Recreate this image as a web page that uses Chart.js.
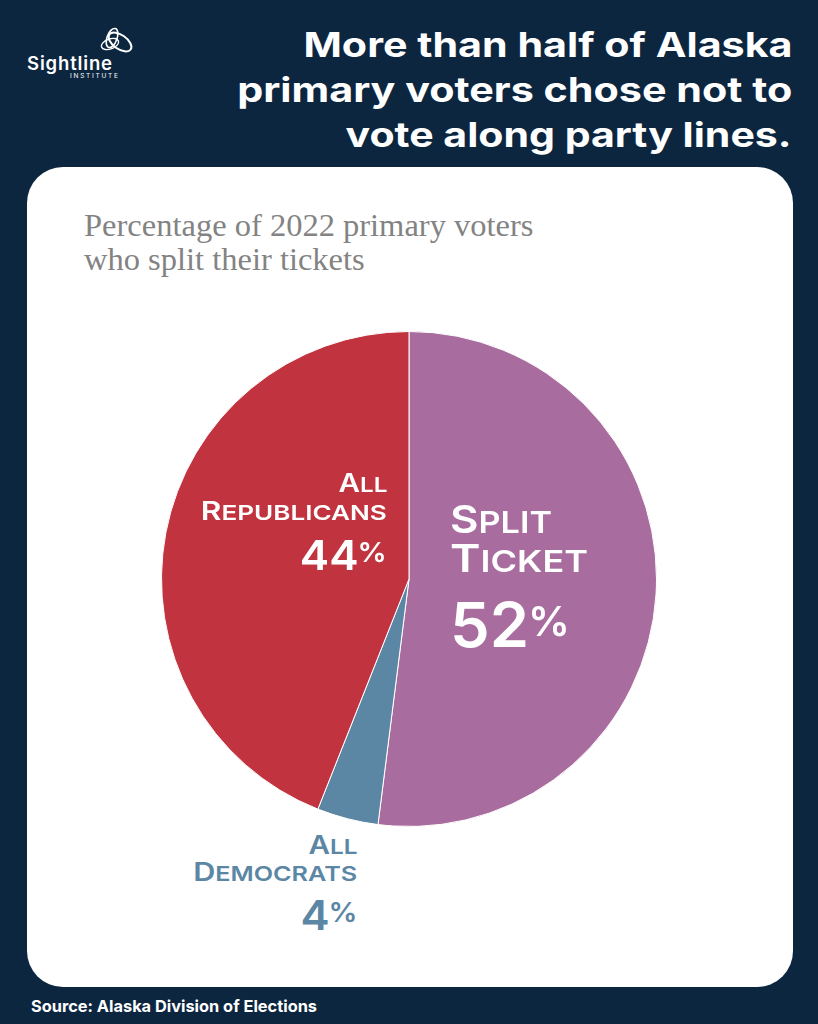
<!DOCTYPE html>
<html>
<head>
<meta charset="utf-8">
<script src="https://cdn.jsdelivr.net/npm/chart.js@4"></script>
<style>
    body { margin: 0; width: 818px; height: 1024px; background: #0c263f; position: relative; overflow: hidden; font-family: "Inter", sans-serif; }
    .abs { position: absolute; white-space: nowrap; line-height: 1; }
    .title { right: 26px; color: #fff; font-weight: 700; font-size: 34px; }
    #card { left: 27px; top: 167px; width: 766px; height: 820px; background: #fff; border-radius: 36px; }
    #subtitle { left: 84px; top: 208px; color: #838383; font-family: "Liberation Serif", serif; font-size: 32.5px; line-height: 34px; }
    #pieBox { left: 161px; top: 331px; width: 496px; height: 496px; }
    .lbl { font-weight: 600; }
    .pct { font-weight: 600; }
    .pct span { margin-left: -1px; }
    #source { left: 31px; top: 998px; color: #fff; font-weight: 700; font-size: 16.5px; }
    #logo { left: 24px; top: 22px; }
</style>
</head>
<body>
<div id="logo" class="abs">
    <svg width="120" height="60" viewBox="0 0 120 60">
        <ellipse cx="88" cy="16" rx="5" ry="10" fill="none" stroke="#fff" stroke-width="1.6" transform="rotate(20 88 16)"/>
        <ellipse cx="96" cy="20" rx="13" ry="7" fill="none" stroke="#fff" stroke-width="2" transform="rotate(35 96 20)"/>
        <ellipse cx="86" cy="22" rx="9" ry="5" fill="none" stroke="#fff" stroke-width="1.4" transform="rotate(-20 86 22)"/>
        <text x="3" y="48" fill="#fff" font-family="Inter" font-weight="600" font-size="18.5" textLength="85">Sightline</text>
        <text x="46" y="56" fill="#fff" font-family="Inter" font-size="6.5" textLength="48">INSTITUTE</text>
    </svg>
</div>

<div class="abs title fit" data-w="489" style="top:28px;">More than half of Alaska</div>
<div class="abs title fit" data-w="555" style="top:73px;">primary voters chose not to</div>
<div class="abs title fit" data-w="446" style="top:118px;">vote along party lines.</div>

<div id="card" class="abs"></div>
<div id="subtitle" class="abs">Percentage of 2022 primary voters<br>who split their tickets</div>
<div id="pieBox" class="abs"><canvas id="pie"></canvas></div>

<!-- Republicans -->
<div class="abs lbl fit" data-w="49" style="right:431px; top:471px; color:#fff; font-size:25px;">A<span style="font-size:20.6px">LL</span></div>
<div class="abs lbl fit" data-w="186" style="right:431px; top:499px; color:#fff; font-size:25px;">R<span style="font-size:20.6px">EPUBLICANS</span></div>
<div class="abs pct fit" data-w="87" style="right:431px; top:535px; color:#fff; font-size:41px;">44<span style="font-size:27px; vertical-align:8px;">%</span></div>

<!-- Split ticket -->
<div class="abs lbl fit" data-w="102" style="left:450px; top:500px; color:#fff; font-size:38.5px;">S<span style="font-size:30px">PLIT</span></div>
<div class="abs lbl fit" data-w="138" style="left:450px; top:539px; color:#fff; font-size:38.5px;">T<span style="font-size:30px">ICKET</span></div>
<div class="abs pct fit" data-w="120" style="left:450px; top:594px; color:#fff; font-size:62px;">52<span style="font-size:41px; vertical-align:11px;">%</span></div>

<!-- Democrats -->
<div class="abs lbl fit" data-w="49" style="right:461px; top:833px; color:#5b86a4; font-size:25px;">A<span style="font-size:20.6px">LL</span></div>
<div class="abs lbl fit" data-w="164" style="right:461px; top:860px; color:#5b86a4; font-size:25px;">D<span style="font-size:20.6px">EMOCRATS</span></div>
<div class="abs pct fit" data-w="57" style="right:461px; top:895px; color:#5b86a4; font-size:41px;">4<span style="font-size:27px; vertical-align:8px;">%</span></div>

<div id="source" class="abs fit" data-w="286">Source: Alaska Division of Elections</div>

<script>
// Data
const categories = ["Split Ticket", "All Democrats", "All Republicans"];
const shares = [52, 4, 44];
const sliceColors = ["#a86c9f", "#5b86a4", "#c1343f"];

new Chart(document.getElementById("pie"), {
    type: "pie",
    data: {
        labels: categories,
        datasets: [{
            data: shares,
            backgroundColor: sliceColors,
            borderColor: "#ffffff",
            borderWidth: 1
        }]
    },
    options: {
        responsive: true,
        maintainAspectRatio: false,
        animation: false,
        layout: { padding: 0 },
        plugins: { legend: { display: false }, tooltip: { enabled: false } }
    }
});

// Widen text lines to the widths of the original (its font is wider than Inter)
function fitText() {
    document.querySelectorAll(".fit").forEach(el => {
        el.style.transform = "none";
        const w = el.getBoundingClientRect().width;
        const k = +el.dataset.w / w;
        el.style.transformOrigin = el.style.right || el.classList.contains("title") ? "right center" : "left center";
        el.style.transform = "scaleX(" + k + ")";
    });
}
fitText();
if (document.fonts) document.fonts.ready.then(fitText);
</script>
</body>
</html>
